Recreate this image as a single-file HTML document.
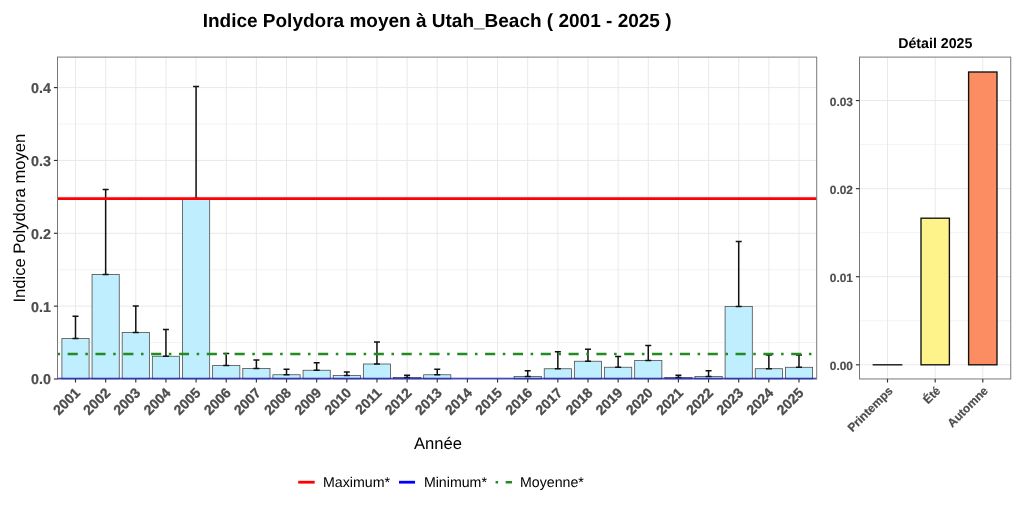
<!DOCTYPE html>
<html lang="fr"><head><meta charset="utf-8"><title>Indice Polydora moyen à Utah_Beach</title>
<style>
html,body{margin:0;padding:0;background:#fff;}
body{width:1024px;height:512px;overflow:hidden;}
svg{display:block;text-rendering:geometricPrecision;font-family:"Liberation Sans",Arial,Helvetica,sans-serif;}
svg .b{font-weight:bold;}
</style></head><body>
<svg width="1024" height="512" viewBox="0 0 1024 512">
<rect width="1024" height="512" fill="#fff"/>
<text x="437.1" y="26.7" text-anchor="middle" class="b" font-size="19" fill="#000">Indice Polydora moyen à Utah_Beach ( 2001 - 2025 )</text>
<g stroke="#e6e6e6" fill="none">
<line x1="57.5" x2="816.7" y1="306.15" y2="306.15" stroke-width="0.9"/>
<line x1="57.5" x2="816.7" y1="233.30" y2="233.30" stroke-width="0.9"/>
<line x1="57.5" x2="816.7" y1="160.45" y2="160.45" stroke-width="0.9"/>
<line x1="57.5" x2="816.7" y1="87.60" y2="87.60" stroke-width="0.9"/>
<line x1="57.5" x2="816.7" y1="342.57" y2="342.57" stroke-width="0.5"/>
<line x1="57.5" x2="816.7" y1="269.73" y2="269.73" stroke-width="0.5"/>
<line x1="57.5" x2="816.7" y1="196.88" y2="196.88" stroke-width="0.5"/>
<line x1="57.5" x2="816.7" y1="124.03" y2="124.03" stroke-width="0.5"/>
<line x1="75.50" x2="75.50" y1="57.1" y2="378.95" stroke-width="0.9"/>
<line x1="105.65" x2="105.65" y1="57.1" y2="378.95" stroke-width="0.9"/>
<line x1="135.79" x2="135.79" y1="57.1" y2="378.95" stroke-width="0.9"/>
<line x1="165.94" x2="165.94" y1="57.1" y2="378.95" stroke-width="0.9"/>
<line x1="196.08" x2="196.08" y1="57.1" y2="378.95" stroke-width="0.9"/>
<line x1="226.23" x2="226.23" y1="57.1" y2="378.95" stroke-width="0.9"/>
<line x1="256.38" x2="256.38" y1="57.1" y2="378.95" stroke-width="0.9"/>
<line x1="286.52" x2="286.52" y1="57.1" y2="378.95" stroke-width="0.9"/>
<line x1="316.67" x2="316.67" y1="57.1" y2="378.95" stroke-width="0.9"/>
<line x1="346.81" x2="346.81" y1="57.1" y2="378.95" stroke-width="0.9"/>
<line x1="376.96" x2="376.96" y1="57.1" y2="378.95" stroke-width="0.9"/>
<line x1="407.11" x2="407.11" y1="57.1" y2="378.95" stroke-width="0.9"/>
<line x1="437.25" x2="437.25" y1="57.1" y2="378.95" stroke-width="0.9"/>
<line x1="467.40" x2="467.40" y1="57.1" y2="378.95" stroke-width="0.9"/>
<line x1="497.54" x2="497.54" y1="57.1" y2="378.95" stroke-width="0.9"/>
<line x1="527.69" x2="527.69" y1="57.1" y2="378.95" stroke-width="0.9"/>
<line x1="557.84" x2="557.84" y1="57.1" y2="378.95" stroke-width="0.9"/>
<line x1="587.98" x2="587.98" y1="57.1" y2="378.95" stroke-width="0.9"/>
<line x1="618.13" x2="618.13" y1="57.1" y2="378.95" stroke-width="0.9"/>
<line x1="648.27" x2="648.27" y1="57.1" y2="378.95" stroke-width="0.9"/>
<line x1="678.42" x2="678.42" y1="57.1" y2="378.95" stroke-width="0.9"/>
<line x1="708.57" x2="708.57" y1="57.1" y2="378.95" stroke-width="0.9"/>
<line x1="738.71" x2="738.71" y1="57.1" y2="378.95" stroke-width="0.9"/>
<line x1="768.86" x2="768.86" y1="57.1" y2="378.95" stroke-width="0.9"/>
<line x1="799.00" x2="799.00" y1="57.1" y2="378.95" stroke-width="0.9"/>
</g>
<g fill="#bfefff" stroke="#4d4d4d" stroke-width="0.8">
<rect x="61.90" y="338.50" width="27.2" height="40.45"/>
<rect x="92.05" y="274.40" width="27.2" height="104.55"/>
<rect x="122.19" y="332.50" width="27.2" height="46.45"/>
<rect x="152.34" y="356.25" width="27.2" height="22.70"/>
<rect x="182.48" y="198.50" width="27.2" height="180.45"/>
<rect x="212.63" y="365.50" width="27.2" height="13.45"/>
<rect x="242.78" y="368.50" width="27.2" height="10.45"/>
<rect x="272.92" y="374.75" width="27.2" height="4.20"/>
<rect x="303.07" y="370.25" width="27.2" height="8.70"/>
<rect x="333.21" y="375.50" width="27.2" height="3.45"/>
<rect x="363.36" y="364.00" width="27.2" height="14.95"/>
<rect x="393.51" y="377.50" width="27.2" height="1.45"/>
<rect x="423.65" y="374.75" width="27.2" height="4.20"/>
<rect x="514.09" y="376.50" width="27.2" height="2.45"/>
<rect x="544.24" y="368.75" width="27.2" height="10.20"/>
<rect x="574.38" y="361.25" width="27.2" height="17.70"/>
<rect x="604.53" y="367.25" width="27.2" height="11.70"/>
<rect x="634.67" y="360.50" width="27.2" height="18.45"/>
<rect x="664.82" y="377.50" width="27.2" height="1.45"/>
<rect x="694.97" y="376.50" width="27.2" height="2.45"/>
<rect x="725.11" y="306.40" width="27.2" height="72.55"/>
<rect x="755.26" y="368.70" width="27.2" height="10.25"/>
<rect x="785.40" y="367.30" width="27.2" height="11.65"/>
</g>
<g stroke="#111" stroke-width="1.5" fill="none">
<path d="M72.50 316.15H78.50M75.50 316.15V338.50M72.50 338.50H78.50"/>
<path d="M102.65 189.60H108.65M105.65 189.60V274.40M102.65 274.40H108.65"/>
<path d="M132.79 305.90H138.79M135.79 305.90V332.50M132.79 332.50H138.79"/>
<path d="M162.94 329.40H168.94M165.94 329.40V356.25M162.94 356.25H168.94"/>
<path d="M193.08 86.40H199.08M196.08 86.40V198.50M193.08 198.50H199.08"/>
<path d="M223.23 353.40H229.23M226.23 353.40V365.50M223.23 365.50H229.23"/>
<path d="M253.38 359.90H259.38M256.38 359.90V368.50M253.38 368.50H259.38"/>
<path d="M283.52 369.15H289.52M286.52 369.15V374.75M283.52 374.75H289.52"/>
<path d="M313.67 362.65H319.67M316.67 362.65V370.25M313.67 370.25H319.67"/>
<path d="M343.81 371.90H349.81M346.81 371.90V375.50M343.81 375.50H349.81"/>
<path d="M373.96 341.90H379.96M376.96 341.90V364.00M373.96 364.00H379.96"/>
<path d="M404.11 375.15H410.11M407.11 375.15V377.50M404.11 377.50H410.11"/>
<path d="M434.25 369.15H440.25M437.25 369.15V374.75M434.25 374.75H440.25"/>
<path d="M524.69 370.65H530.69M527.69 370.65V376.50M524.69 376.50H530.69"/>
<path d="M554.84 351.65H560.84M557.84 351.65V368.75M554.84 368.75H560.84"/>
<path d="M584.98 349.15H590.98M587.98 349.15V361.25M584.98 361.25H590.98"/>
<path d="M615.13 356.40H621.13M618.13 356.40V367.25M615.13 367.25H621.13"/>
<path d="M645.27 345.40H651.27M648.27 345.40V360.50M645.27 360.50H651.27"/>
<path d="M675.42 375.15H681.42M678.42 375.15V377.50M675.42 377.50H681.42"/>
<path d="M705.57 370.65H711.57M708.57 370.65V376.50M705.57 376.50H711.57"/>
<path d="M735.71 241.50H741.71M738.71 241.50V306.40M735.71 306.40H741.71"/>
<path d="M765.86 355.10H771.86M768.86 355.10V368.70M765.86 368.70H771.86"/>
<path d="M796.00 355.10H802.00M799.00 355.10V367.30M796.00 367.30H802.00"/>
</g>
<line x1="57.5" x2="816.7" y1="198.55" y2="198.55" stroke="#ff0000" stroke-width="2.8"/>
<line x1="57.5" x2="816.7" y1="354.05" y2="354.05" stroke="#228b22" stroke-width="2.55" stroke-dasharray="2.53 7.59 10.12 7.59"/>
<rect x="57.5" y="57.1" width="759.2" height="321.99999999999994" fill="none" stroke="#787878" stroke-width="1"/>
<line x1="58.0" x2="816.2" y1="378.3" y2="378.3" stroke="#1414e6" stroke-width="1.1"/>
<g stroke="#333" stroke-width="1.15">
<line x1="53.9" x2="57.5" y1="379.00" y2="379.00"/>
<line x1="53.9" x2="57.5" y1="306.15" y2="306.15"/>
<line x1="53.9" x2="57.5" y1="233.30" y2="233.30"/>
<line x1="53.9" x2="57.5" y1="160.45" y2="160.45"/>
<line x1="53.9" x2="57.5" y1="87.60" y2="87.60"/>
<line x1="75.50" x2="75.50" y1="378.95" y2="382.55"/>
<line x1="105.65" x2="105.65" y1="378.95" y2="382.55"/>
<line x1="135.79" x2="135.79" y1="378.95" y2="382.55"/>
<line x1="165.94" x2="165.94" y1="378.95" y2="382.55"/>
<line x1="196.08" x2="196.08" y1="378.95" y2="382.55"/>
<line x1="226.23" x2="226.23" y1="378.95" y2="382.55"/>
<line x1="256.38" x2="256.38" y1="378.95" y2="382.55"/>
<line x1="286.52" x2="286.52" y1="378.95" y2="382.55"/>
<line x1="316.67" x2="316.67" y1="378.95" y2="382.55"/>
<line x1="346.81" x2="346.81" y1="378.95" y2="382.55"/>
<line x1="376.96" x2="376.96" y1="378.95" y2="382.55"/>
<line x1="407.11" x2="407.11" y1="378.95" y2="382.55"/>
<line x1="437.25" x2="437.25" y1="378.95" y2="382.55"/>
<line x1="467.40" x2="467.40" y1="378.95" y2="382.55"/>
<line x1="497.54" x2="497.54" y1="378.95" y2="382.55"/>
<line x1="527.69" x2="527.69" y1="378.95" y2="382.55"/>
<line x1="557.84" x2="557.84" y1="378.95" y2="382.55"/>
<line x1="587.98" x2="587.98" y1="378.95" y2="382.55"/>
<line x1="618.13" x2="618.13" y1="378.95" y2="382.55"/>
<line x1="648.27" x2="648.27" y1="378.95" y2="382.55"/>
<line x1="678.42" x2="678.42" y1="378.95" y2="382.55"/>
<line x1="708.57" x2="708.57" y1="378.95" y2="382.55"/>
<line x1="738.71" x2="738.71" y1="378.95" y2="382.55"/>
<line x1="768.86" x2="768.86" y1="378.95" y2="382.55"/>
<line x1="799.00" x2="799.00" y1="378.95" y2="382.55"/>
</g>
<g class="b" font-size="14.3" fill="#4d4d4d" stroke="#4d4d4d" stroke-width="0.22" text-anchor="end">
<text x="50.9" y="384.40">0.0</text>
<text x="50.9" y="311.55">0.1</text>
<text x="50.9" y="238.70">0.2</text>
<text x="50.9" y="165.85">0.3</text>
<text x="50.9" y="93.00">0.4</text>
</g>
<g class="b" font-size="14" fill="#4d4d4d" stroke="#4d4d4d" stroke-width="0.3" text-anchor="end">
<text transform="translate(81.00 393.7) rotate(-45)">2001</text>
<text transform="translate(111.15 393.7) rotate(-45)">2002</text>
<text transform="translate(141.29 393.7) rotate(-45)">2003</text>
<text transform="translate(171.44 393.7) rotate(-45)">2004</text>
<text transform="translate(201.58 393.7) rotate(-45)">2005</text>
<text transform="translate(231.73 393.7) rotate(-45)">2006</text>
<text transform="translate(261.88 393.7) rotate(-45)">2007</text>
<text transform="translate(292.02 393.7) rotate(-45)">2008</text>
<text transform="translate(322.17 393.7) rotate(-45)">2009</text>
<text transform="translate(352.31 393.7) rotate(-45)">2010</text>
<text transform="translate(382.46 393.7) rotate(-45)">2011</text>
<text transform="translate(412.61 393.7) rotate(-45)">2012</text>
<text transform="translate(442.75 393.7) rotate(-45)">2013</text>
<text transform="translate(472.90 393.7) rotate(-45)">2014</text>
<text transform="translate(503.04 393.7) rotate(-45)">2015</text>
<text transform="translate(533.19 393.7) rotate(-45)">2016</text>
<text transform="translate(563.34 393.7) rotate(-45)">2017</text>
<text transform="translate(593.48 393.7) rotate(-45)">2018</text>
<text transform="translate(623.63 393.7) rotate(-45)">2019</text>
<text transform="translate(653.77 393.7) rotate(-45)">2020</text>
<text transform="translate(683.92 393.7) rotate(-45)">2021</text>
<text transform="translate(714.07 393.7) rotate(-45)">2022</text>
<text transform="translate(744.21 393.7) rotate(-45)">2023</text>
<text transform="translate(774.36 393.7) rotate(-45)">2024</text>
<text transform="translate(804.50 393.7) rotate(-45)">2025</text>
</g>
<text x="437.9" y="449" text-anchor="middle" font-size="16.6" fill="#000">Année</text>
<text transform="translate(24.6 218.2) rotate(-90)" text-anchor="middle" font-size="16.6" fill="#000">Indice Polydora moyen</text>
<line x1="298.2" x2="314.7" y1="482.2" y2="482.2" stroke="#ff0000" stroke-width="2.8"/>
<text x="323.0" y="487.3" font-size="14.2" fill="#000">Maximum*</text>
<line x1="399" x2="415" y1="482.2" y2="482.2" stroke="#0000ff" stroke-width="2.8"/>
<text x="423.9" y="487.3" font-size="14.2" fill="#000">Minimum*</text>
<line x1="495.6" x2="512" y1="482.2" y2="482.2" stroke="#228b22" stroke-width="2.52" stroke-dasharray="2.52 7.56 10.08 7.56"/>
<text x="520.0" y="487.3" font-size="14.2" fill="#000">Moyenne*</text>
<g stroke="#e6e6e6" fill="none">
<line x1="859.5" x2="1010.75" y1="364.80" y2="364.80" stroke-width="0.9"/>
<line x1="859.5" x2="1010.75" y1="276.72" y2="276.72" stroke-width="0.9"/>
<line x1="859.5" x2="1010.75" y1="188.64" y2="188.64" stroke-width="0.9"/>
<line x1="859.5" x2="1010.75" y1="100.56" y2="100.56" stroke-width="0.9"/>
<line x1="859.5" x2="1010.75" y1="320.76" y2="320.76" stroke-width="0.5"/>
<line x1="859.5" x2="1010.75" y1="232.68" y2="232.68" stroke-width="0.5"/>
<line x1="859.5" x2="1010.75" y1="144.60" y2="144.60" stroke-width="0.5"/>
<line x1="887.5" x2="887.5" y1="57.1" y2="378.95" stroke-width="0.9"/>
<line x1="935.2" x2="935.2" y1="57.1" y2="378.95" stroke-width="0.9"/>
<line x1="982.8" x2="982.8" y1="57.1" y2="378.95" stroke-width="0.9"/>
</g>
<g stroke="#111" stroke-width="1.35">
<rect x="873.30" y="364.79" width="28.4" height="0.02" fill="#a8e6a3"/>
<rect x="921.00" y="218.2" width="28.4" height="146.60" fill="#fef28a"/>
<rect x="968.60" y="72.0" width="28.4" height="292.80" fill="#fc8d62"/>
</g>
<rect x="859.5" y="57.1" width="151.25" height="321.84999999999997" fill="none" stroke="#787878" stroke-width="1"/>
<g stroke="#333" stroke-width="1.15">
<line x1="855.9" x2="859.5" y1="364.80" y2="364.80"/>
<line x1="855.9" x2="859.5" y1="276.72" y2="276.72"/>
<line x1="855.9" x2="859.5" y1="188.64" y2="188.64"/>
<line x1="855.9" x2="859.5" y1="100.56" y2="100.56"/>
<line x1="887.5" x2="887.5" y1="378.95" y2="382.55"/>
<line x1="935.2" x2="935.2" y1="378.95" y2="382.55"/>
<line x1="982.8" x2="982.8" y1="378.95" y2="382.55"/>
</g>
<g class="b" font-size="11.9" fill="#4d4d4d" stroke="#4d4d4d" stroke-width="0.18" text-anchor="end">
<text x="853" y="369.80">0.00</text>
<text x="853" y="281.72">0.01</text>
<text x="853" y="193.64">0.02</text>
<text x="853" y="105.56">0.03</text>
<text transform="translate(893.50 391.5) rotate(-45)">Printemps</text>
<text transform="translate(941.20 391.5) rotate(-45)">Été</text>
<text transform="translate(988.80 391.5) rotate(-45)">Automne</text>
</g>
<text x="935.3" y="47.8" text-anchor="middle" class="b" font-size="14.2" fill="#000">Détail 2025</text>
</svg>
</body></html>
